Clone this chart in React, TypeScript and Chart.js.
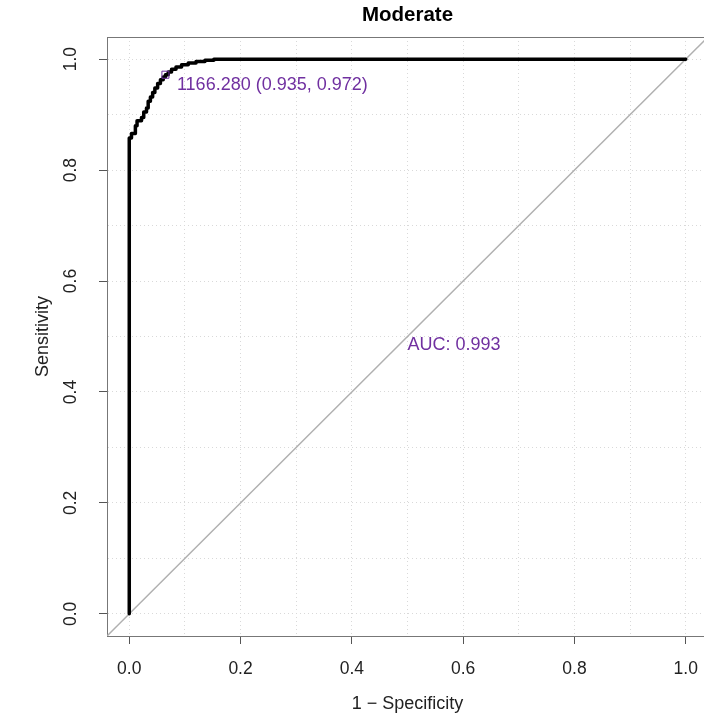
import React, { useEffect, useRef } from 'react';
import { Chart, registerables } from 'chart.js';

Chart.register(...registerables);

// ---- data ----
const TITLE = 'Moderate';
const X_TITLE = '1 \u2212 Specificity';
const Y_TITLE = 'Sensitivity';

// ROC curve (1 - specificity, sensitivity)
const fpr = [
  0, 0, 0.004, 0.004, 0.011, 0.011, 0.014, 0.014, 0.022, 0.022, 0.026, 0.026,
  0.031, 0.031, 0.034, 0.034, 0.038, 0.038, 0.042, 0.042, 0.046, 0.046, 0.051,
  0.051, 0.056, 0.056, 0.061, 0.061, 0.065, 0.065, 0.07, 0.07, 0.076, 0.076,
  0.084, 0.084, 0.094, 0.094, 0.106, 0.106, 0.12, 0.12, 0.136, 0.136, 0.152,
  0.152, 1.0,
];
const tpr = [
  0, 0.858, 0.858, 0.866, 0.866, 0.88, 0.88, 0.889, 0.889, 0.895, 0.895, 0.905,
  0.905, 0.912, 0.912, 0.924, 0.924, 0.932, 0.932, 0.94, 0.94, 0.948, 0.948,
  0.956, 0.956, 0.963, 0.963, 0.968, 0.968, 0.972, 0.972, 0.977, 0.977, 0.982,
  0.982, 0.986, 0.986, 0.99, 0.99, 0.993, 0.993, 0.996, 0.996, 0.998, 0.998,
  1.0, 1.0,
];

const diagX = [-0.04, 1.04];
const diagY = [-0.04, 1.04];

const thresholdX = [0.065];
const thresholdY = [0.972];
const thresholdLabel = '1166.280 (0.935, 0.972)';

const aucX = [0.5];
const aucY = [0.5];
const aucLabel = 'AUC: 0.993';

const tickValues = [0, 0.1, 0.2, 0.3, 0.4, 0.5, 0.6, 0.7, 0.8, 0.9, 1.0];
const AXIS_MIN = -0.04;
const AXIS_MAX = 1.04;

const FONT = "'Liberation Sans', Arial, Helvetica, sans-serif";
const PURPLE = '#7030a0';

const isMajor = (v: number) => Math.round(v * 10) % 2 === 0;

export default function App() {
  const ref = useRef<HTMLCanvasElement>(null);

  useEffect(() => {
    if (!ref.current) return;

    const boxPlugin = {
      id: 'boxPlugin',
      beforeDatasetsDraw(chart: any) {
        const { ctx, chartArea: a } = chart;
        ctx.save();
        ctx.strokeStyle = '#777';
        ctx.lineWidth = 1;
        ctx.strokeRect(
          Math.round(a.left) + 0.5,
          Math.round(a.top) + 0.5,
          Math.round(a.right - a.left),
          Math.round(a.bottom - a.top)
        );
        ctx.restore();
      },
    };

    const labelPlugin = {
      id: 'labelPlugin',
      afterDatasetsDraw(chart: any) {
        const { ctx, scales } = chart;
        const xs = scales.x;
        const ys = scales.y;
        ctx.save();
        ctx.fillStyle = PURPLE;
        ctx.font = `18px ${FONT}`;
        ctx.textAlign = 'left';
        ctx.textBaseline = 'alphabetic';
        const px = xs.getPixelForValue(thresholdX[0]);
        const py = ys.getPixelForValue(thresholdY[0]);
        ctx.fillText(thresholdLabel, px + 11.5, py + 15.5);
        const ax = xs.getPixelForValue(aucX[0]);
        const ay = ys.getPixelForValue(aucY[0]);
        ctx.fillText(aucLabel, ax, ay + 13);
        ctx.restore();
      },
    };

    const tickFont = { family: FONT, size: 17.5 };
    const titleFont = { family: FONT, size: 18 };

    const chart = new Chart(ref.current, {
      type: 'scatter',
      data: {
        datasets: [
          {
            label: 'threshold',
            data: thresholdX.map((x, i) => ({ x, y: thresholdY[i] })),
            pointStyle: 'rect',
            pointRadius: 5,
            pointHoverRadius: 5,
            borderColor: PURPLE,
            backgroundColor: 'rgba(0,0,0,0)',
            borderWidth: 1,
            showLine: false,
            order: 0,
          },
          {
            label: 'ROC',
            data: fpr.map((x, i) => ({ x, y: tpr[i] })),
            showLine: true,
            borderColor: '#000',
            borderWidth: 3.5,
            borderJoinStyle: 'round',
            borderCapStyle: 'round',
            pointRadius: 0,
            pointHoverRadius: 0,
            fill: false,
            order: 1,
          },
          {
            label: 'diagonal',
            data: diagX.map((x, i) => ({ x, y: diagY[i] })),
            showLine: true,
            borderColor: '#b0b0b0',
            borderWidth: 1.5,
            pointRadius: 0,
            pointHoverRadius: 0,
            fill: false,
            order: 2,
          },
        ],
      },
      options: {
        responsive: false,
        animation: false,
        events: [],
        layout: { padding: 0, autoPadding: false },
        plugins: {
          legend: { display: false },
          tooltip: { enabled: false },
          title: {
            display: true,
            text: TITLE,
            color: '#000',
            fullSize: false,
            font: { family: FONT, size: 20.5, weight: 'bold' },
            padding: { top: 3, bottom: 9.4 },
          },
        },
        scales: {
          x: {
            type: 'linear',
            position: 'bottom',
            min: AXIS_MIN,
            max: AXIS_MAX,
            afterBuildTicks: (s: any) => {
              s.ticks = tickValues.map((v) => ({ value: v }));
            },
            afterFit: (s: any) => {
              s.height = 81;
              s.paddingLeft = 0;
              s.paddingRight = 0;
              s.paddingTop = 0;
              s.paddingBottom = 0;
            },
            ticks: {
              autoSkip: false,
              minRotation: 0,
              maxRotation: 0,
              padding: 14.5,
              color: '#222',
              font: tickFont,
              callback: (v: any) => (isMajor(Number(v)) ? Number(v).toFixed(1) : ''),
            },
            grid: {
              color: '#d9d9d9',
              lineWidth: 1,
              tickLength: 8,
              tickWidth: 1,
              tickColor: (c: any) =>
                c.tick && isMajor(c.tick.value) ? '#555' : 'rgba(0,0,0,0)',
            },
            border: { display: true, color: '#777', width: 1, dash: [1, 3] },
            title: {
              display: true,
              text: X_TITLE,
              color: '#222',
              font: titleFont,
              padding: { top: 0, bottom: 2.2 },
            },
          },
          y: {
            type: 'linear',
            position: 'left',
            min: AXIS_MIN,
            max: AXIS_MAX,
            afterBuildTicks: (s: any) => {
              s.ticks = tickValues.map((v) => ({ value: v }));
            },
            afterFit: (s: any) => {
              s.width = 107;
              s.paddingLeft = 0;
              s.paddingRight = 0;
              s.paddingTop = 0;
              s.paddingBottom = 0;
            },
            ticks: {
              autoSkip: false,
              minRotation: 90,
              maxRotation: 90,
              crossAlign: 'center',
              padding: 15.8,
              color: '#222',
              font: tickFont,
              callback: (v: any) => (isMajor(Number(v)) ? Number(v).toFixed(1) : ''),
            },
            grid: {
              color: '#d9d9d9',
              lineWidth: 1,
              tickLength: 8,
              tickWidth: 1,
              tickColor: (c: any) =>
                c.tick && isMajor(c.tick.value) ? '#555' : 'rgba(0,0,0,0)',
            },
            border: { display: true, color: '#777', width: 1, dash: [1, 3] },
            title: {
              display: true,
              text: Y_TITLE,
              color: '#222',
              font: titleFont,
              padding: { top: 32.2, bottom: 0 },
            },
          },
        },
      } as any,
      plugins: [boxPlugin, labelPlugin],
    });

    return () => chart.destroy();
  }, []);

  return (
    <div
      style={{
        position: 'fixed',
        left: 0,
        top: 0,
        width: 704,
        height: 717,
        overflow: 'hidden',
        background: '#fff',
      }}
    >
      <canvas
        ref={ref}
        width={708}
        height={717}
        style={{ display: 'block', width: 708, height: 717 }}
      />
    </div>
  );
}
